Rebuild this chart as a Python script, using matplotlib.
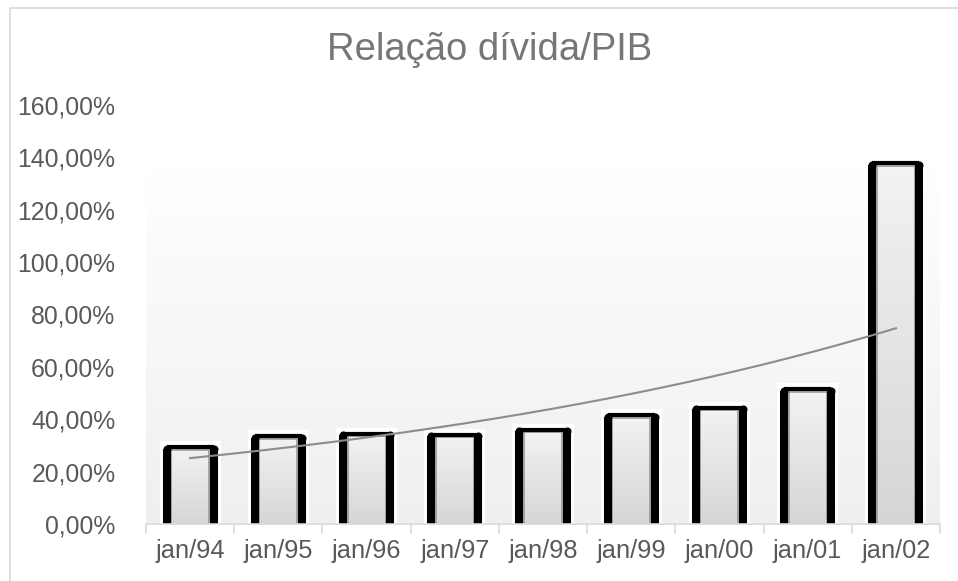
import numpy as np
import matplotlib
matplotlib.use("Agg")
import matplotlib.pyplot as plt
from matplotlib.patches import Rectangle
from matplotlib.colors import LinearSegmentedColormap

# Data
categories = ["jan/94", "jan/95", "jan/96", "jan/97", "jan/98",
              "jan/99", "jan/00", "jan/01", "jan/02"]
ratio = [29.4, 33.6, 34.4, 34.0, 35.9, 41.6, 44.3, 51.5, 137.8]
y_ticks = [0, 20, 40, 60, 80, 100, 120, 140, 160]
y_tick_labels = [f"{v:.2f}%".replace(".", ",") for v in y_ticks]

plt.rcParams["font.family"] = ["Liberation Sans", "DejaVu Sans"]

W, H = 958, 581
fig = plt.figure(figsize=(W / 100, H / 100), dpi=100)
ax = fig.add_axes([146 / W, (H - 524) / H, (940 - 146) / W, (524 - 105) / H])

x = np.arange(len(categories))
ax.set_xlim(-0.5, len(categories) - 0.5)
ax.set_ylim(0, 160)

# plot area background gradient (white to light gray)
bg = LinearSegmentedColormap.from_list("bg", ["#efefef", "#ffffff"])
ax.imshow(np.linspace(0, 1, 256).reshape(-1, 1), cmap=bg, aspect="auto",
          extent=[-0.5, len(categories) - 0.5, 0, 160], origin="lower",
          vmin=0, vmax=0.85, zorder=0)

# pixel -> data helpers
px_x = (len(categories)) / (940 - 146)
px_y = 160 / (524 - 105)

bar_w = 0.533
fill = LinearSegmentedColormap.from_list("fill", ["#d6d6d6", "#f3f3f3"])
for xi, v in zip(x, ratio):
    left, right = xi - bar_w / 2, xi + bar_w / 2
    # white halo behind bar
    ax.add_patch(Rectangle((left - 7 * px_x, 0), bar_w + 14 * px_x, v + 6 * px_y,
                           facecolor="white", edgecolor="none", zorder=1))
    # gradient fill clipped to the bar
    r = Rectangle((left, 0), bar_w, v, facecolor="none", edgecolor="none", zorder=2)
    ax.add_patch(r)
    im = ax.imshow(np.linspace(0, 1, 256).reshape(-1, 1), cmap=fill, aspect="auto",
                   extent=[left, right, 0, v], origin="lower", zorder=2)
    im.set_clip_path(r)
    # thin gray inner line
    ins_x, ins_y = 4.5 * px_x, 2.5 * px_y
    ax.plot([left + ins_x, left + ins_x, right - ins_x, right - ins_x],
            [0, v - ins_y, v - ins_y, 0], color="#9a9a9a", lw=1.2, zorder=3,
            solid_joinstyle="miter")
    # black outline: thick sides, thinner top, rounded corners
    ax.plot([left, right], [v, v], color="black", lw=3.0,
            solid_capstyle="butt", zorder=4)
    for sx in (left, right):
        ax.plot([sx, sx], [0, v - 1.5 * px_y], color="black", lw=5.8,
                solid_capstyle="butt", zorder=4)
        ax.plot([sx], [v - 1.5 * px_y], marker="o", ms=5.8, mew=0,
                color="black", zorder=4)

# exponential trendline
b, a = np.polyfit(x, np.log(ratio), 1)
xt = np.linspace(0, len(categories) - 1, 200)
ax.plot(xt, np.exp(a + b * xt), color="#8c8c8c", lw=1.5, zorder=5)

# axes styling
for s in ["top", "right", "left"]:
    ax.spines[s].set_visible(False)
ax.spines["bottom"].set_color("#d9d9d9")
ax.spines["bottom"].set_linewidth(1.2)
ax.spines["bottom"].set_zorder(6)

ax.set_yticks(y_ticks)
ax.set_yticklabels(y_tick_labels, fontsize=17.8, color="#595959")
ax.tick_params(axis="y", length=0, pad=22)

ax.set_xticks(x)
ax.set_xticklabels(categories, fontsize=18.3, color="#595959")
ax.tick_params(axis="x", length=0, pad=11)
ax.set_xticks(np.arange(-0.5, len(categories)), minor=True)
ax.tick_params(axis="x", which="minor", length=7, color="#d9d9d9", width=1.2)

fig.text(490 / W, 1 - 50 / H, "Relação dívida/PIB", fontsize=27.5, color="#767676",
         ha="center", va="center")

# outer chart border
fig.patches.append(Rectangle((9.5 / W, -0.1), 2, 1.1 - 7.5 / H,
                             transform=fig.transFigure, facecolor="none",
                             edgecolor="#d9d9d9", lw=1.2))

fig.savefig("out.png", dpi=100)
